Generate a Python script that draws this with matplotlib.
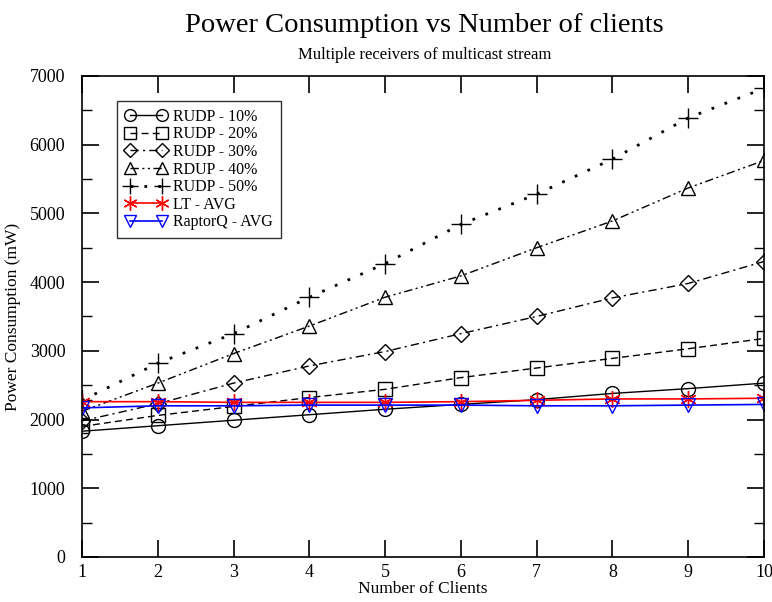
import matplotlib.pyplot as plt
from matplotlib.ticker import MultipleLocator

clients = [1, 2, 3, 4, 5, 6, 7, 8, 9, 10]

rudp_10 = [1830, 1910, 1990, 2070, 2150, 2220, 2290, 2380, 2450, 2530]
rudp_20 = [1900, 2060, 2190, 2320, 2440, 2610, 2750, 2890, 3030, 3180]
rudp_30 = [1980, 2230, 2530, 2780, 2990, 3250, 3500, 3770, 3980, 4300]
rdup_40 = [2120, 2530, 2960, 3360, 3780, 4090, 4500, 4890, 5370, 5770]
rudp_50 = [2280, 2820, 3250, 3780, 4270, 4840, 5280, 5790, 6390, 6820]
lt_avg = [2260, 2260, 2250, 2250, 2250, 2260, 2280, 2300, 2300, 2310]
raptorq_avg = [2170, 2200, 2200, 2210, 2210, 2210, 2200, 2200, 2210, 2220]

plt.rcParams["font.family"] = ["Liberation Serif", "DejaVu Serif"]

fig = plt.figure(figsize=(7.72, 6.02), dpi=100)
ax = fig.add_axes([0.1062, 0.0748, 0.8834, 0.799])

mk = dict(markersize=10, markerfacecolor="none", markeredgewidth=1.0)
ax.plot(clients, rudp_10, color="black", linestyle="-", linewidth=1.0,
        marker="o", markeredgecolor="black", label="RUDP - 10%", **mk)
ax.plot(clients, rudp_20, color="black", linestyle=(0, (5, 3)), linewidth=1.0,
        marker="s", markeredgecolor="black", label="RUDP - 20%", **mk)
ax.plot(clients, rudp_30, color="black", linestyle=(0, (6, 3, 1.5, 3)), linewidth=1.0,
        marker="D", markeredgecolor="black", label="RUDP - 30%",
        markersize=8.5, markerfacecolor="none", markeredgewidth=1.0)
ax.plot(clients, rdup_40, color="black", linestyle=(0, (6, 2.5, 1.5, 2.5, 1.5, 2.5)),
        linewidth=1.0, marker="^", markeredgecolor="black", label="RDUP - 40%", **mk)
ax.plot(clients, rudp_50, color="black", linestyle=(0, (1, 4)), linewidth=2.0,
        marker="+", markeredgecolor="black", label="RUDP - 50%",
        markersize=14, markeredgewidth=1.0)
ax.plot(clients, lt_avg, color="red", linestyle="-", linewidth=1.2,
        marker=(6, 2, 0), markeredgecolor="red", label="LT - AVG",
        markersize=12, markeredgewidth=1.0)
ax.plot(clients, raptorq_avg, color="blue", linestyle="-", linewidth=1.2,
        marker="v", markeredgecolor="blue", label="RaptorQ - AVG", **mk)

ax.set_xlim(1, 10)
ax.set_ylim(0, 7000)
ax.xaxis.set_major_locator(MultipleLocator(1))
ax.yaxis.set_major_locator(MultipleLocator(1000))
ax.yaxis.set_minor_locator(MultipleLocator(500))
ax.tick_params(which="both", direction="in", top=True, right=True, labelsize=13)
ax.tick_params(which="major", length=12, width=1.2)
ax.tick_params(axis="y", which="major", pad=12)
ax.tick_params(axis="x", which="major", pad=5)
ax.tick_params(which="minor", length=7, width=1.0)
for spine in ax.spines.values():
    spine.set_linewidth(1.2)

ax.set_xlabel("Number of Clients", fontsize=12.5, labelpad=0)
ax.set_ylabel("Power Consumption (mW)", fontsize=12.5, labelpad=6)

fig.text(0.55, 0.958, "Power Consumption vs Number of clients",
         ha="center", va="center", fontsize=20.5)
fig.text(0.55, 0.908, "Multiple receivers of multicast stream",
         ha="center", va="center", fontsize=12)

leg = ax.legend(loc="upper left", bbox_to_anchor=(0.04, 0.965), fontsize=11.5,
                frameon=True, fancybox=False, edgecolor="black", numpoints=2,
                handlelength=2.6, borderpad=0.5, labelspacing=0.1,
                handletextpad=0.4, markerscale=0.85)
leg.get_frame().set_linewidth(1.0)

fig.savefig("out.png", dpi=100)
